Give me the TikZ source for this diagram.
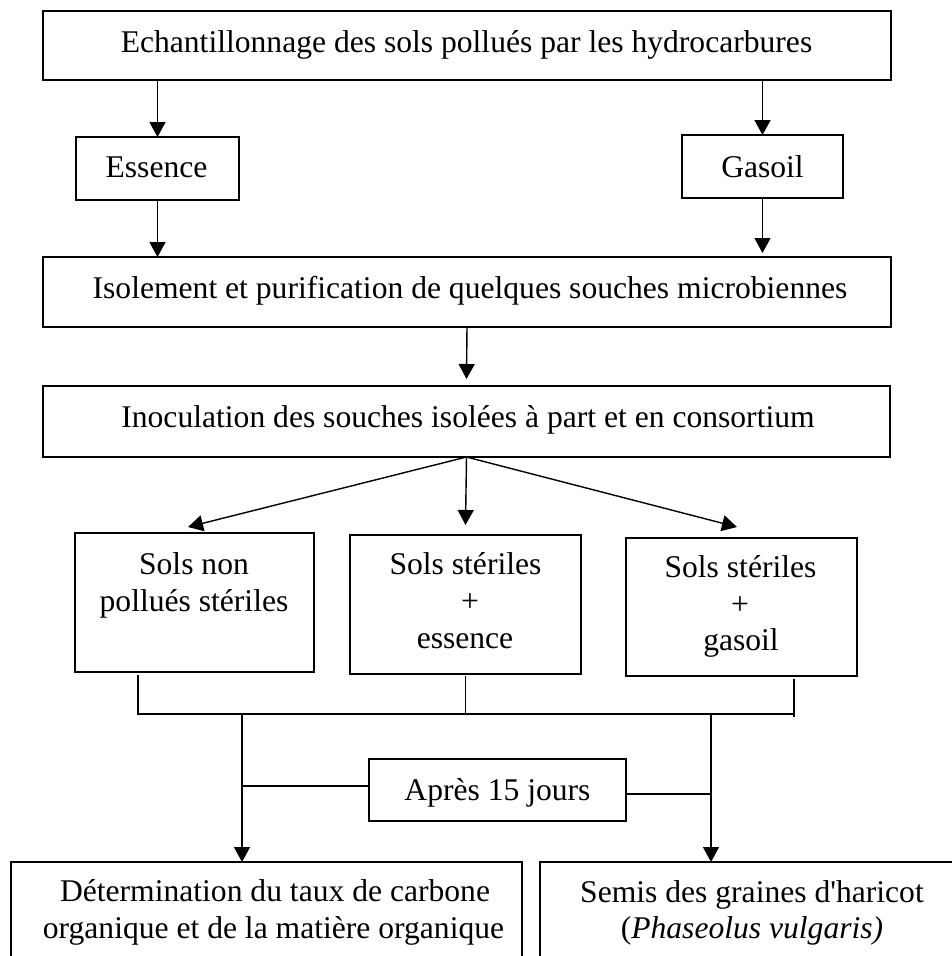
\documentclass[tikz,border=0pt]{standalone}
\usepackage{fontspec}
\setmainfont{Liberation Serif}[Ligatures=TeXOff]
\usetikzlibrary{arrows.meta}
\tikzset{
  box/.style={draw, line width=2pt, inner sep=0pt, outer sep=0pt},
  txt/.style={inner sep=0pt, anchor=base, font=\fontsize{31.6}{37}\selectfont},
  ln/.style={line width=1.4pt},
  arr/.style={line width=1.4pt, -{Triangle[length=15pt,width=16pt]}}
}
\begin{document}
\begin{tikzpicture}[x=1pt,y=-1pt]
\useasboundingbox (0,0) rectangle (952,956);
\clip (0,0) rectangle (952,956);
\fill[white] (0,0) rectangle (952,956);
% boxes
\node[box, minimum width=848pt, minimum height=69pt] (top) at (467,45.5) {};
\node[box, minimum width=163pt, minimum height=63pt] (ess) at (157.5,168.5) {};
\node[box, minimum width=161pt, minimum height=63pt] (gas) at (762.5,166.5) {};
\node[box, minimum width=848pt, minimum height=70pt] (iso) at (467,292) {};
\node[box, minimum width=847pt, minimum height=71pt] (inoc) at (466.5,421.5) {};
\node[box, minimum width=239pt, minimum height=139pt] (b1) at (194.5,602.5) {};
\node[box, minimum width=231pt, minimum height=139pt] (b2) at (465.5,604.5) {};
\node[box, minimum width=231pt, minimum height=138pt] (b3) at (741.5,607) {};
\node[box, minimum width=257pt, minimum height=62pt] (apres) at (497.5,790) {};
\node[box, minimum width=511pt, minimum height=138pt] (bl) at (266.5,931) {};
\node[box, minimum width=424pt, minimum height=138pt] (br) at (752,931) {};
% texts
\node[txt] (tTop) at (466.5,52) {Echantillonnage des sols pollués par les hydrocarbures};
\node[txt] (tEss) at (156.5,177.5) {Essence};
\node[txt] (tGas) at (762.5,177) {Gasoil};
\node[txt] (tIso) at (470,298) {Isolement et purification de quelques souches microbiennes};
\node[txt] (tInoc) at (468,427) {Inoculation des souches isolées à part et en consortium};
\node[txt] (tB1a) at (194,574) {Sols non};
\node[txt] (tB1b) at (194,611) {pollués stériles};
\node[txt] (tB2a) at (465.5,574) {Sols stériles};
\node[txt] (tB2b) at (470,611) {+};
\node[txt] (tB2c) at (465,648) {essence};
\node[txt] (tB3a) at (740.5,577) {Sols stériles};
\node[txt] (tB3b) at (740,614) {+};
\node[txt] (tB3c) at (741,650) {gasoil};
\node[txt] (tApres) at (497.5,800) {Après 15 jours};
\node[txt] (tBLa) at (275,901) {Détermination du taux de carbone};
\node[txt] (tBLb) at (273.5,938) {organique et de la matière organique};
\node[txt] (tBRa) at (752,902) {Semis des graines d'haricot};
\node[txt] (tBRb) at (752,938) {(\textit{Phaseolus vulgaris)}};
% connectors
\draw[arr] (top.south -| ess.north) -- (ess.north);
\draw[arr] (top.south -| gas.north) -- (gas.north);
\draw[arr] (ess.south) -- (ess.south |- iso.north);
\draw[arr] (gas.south) -- ([yshift=4pt]gas.south |- iso.north);
\draw[arr] (iso.south) -- ([yshift=7pt]inoc.north);
\draw[arr] (inoc.south) -- ([shift={(-6.5pt,6pt)}]b1.north);
\draw[arr] (inoc.south) -- ([yshift=10pt]b2.north);
\draw[arr] (inoc.south) -- ([shift={(-4.5pt,11pt)}]b3.north);
% bracket
\coordinate (jL) at (138,714);
\coordinate (jR) at (794,714);
\draw[ln] ([yshift=-3pt]b1.south -| jL) -- (jL) -- (jR);
\draw[ln] ([yshift=-2pt]b2.south) -- (b2.south |- jL);
\draw[ln] ([yshift=-3pt]b3.south -| jR) -- ([yshift=-3pt]jR);
% down arrows
\coordinate (dL) at (242,714);
\coordinate (dR) at (711,714);
\draw[arr] (dL) -- (dL |- bl.north);
\draw[arr] (dR) -- (dR |- br.north);
\draw[ln] ([yshift=4pt]apres.west) -- ([yshift=4pt]apres.west -| dL);
\draw[ln] ([yshift=-4pt]apres.east) -- ([yshift=-4pt]apres.east -| dR);
\end{tikzpicture}
\end{document}
